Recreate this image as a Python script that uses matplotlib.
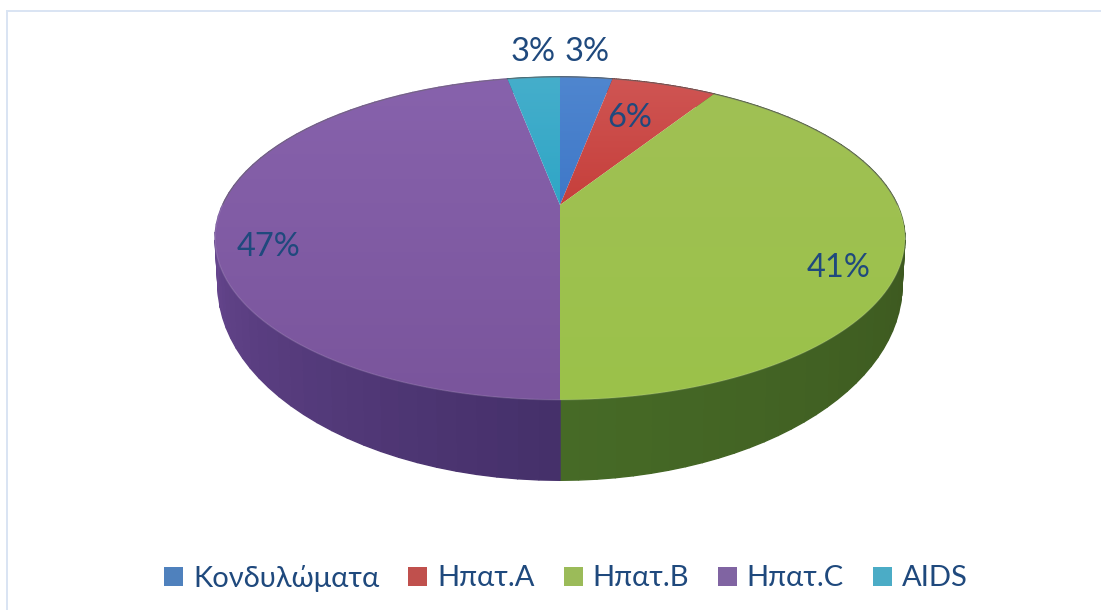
import numpy as np
import matplotlib
matplotlib.use("Agg")
from matplotlib import pyplot as plt
from matplotlib.patches import Polygon, Patch

labels = ["Κονδυλώματα", "Ηπατ.Α", "Ηπατ.Β", "Ηπατ.C", "AIDS"]
values = [3, 6, 41, 47, 3]

# face gradient, top colour and bottom colour
face_top = ["#4f86cf", "#cf5553", "#a0c054", "#8762ac", "#45aecb"]
face_bottom = ["#3f78c8", "#c63f3b", "#9bc24a", "#7a559c", "#2fa6c6"]
swatches = ["#4f81bd", "#c0504d", "#9bbb59", "#8064a2", "#4bacc6"]
# side wall colours, first and last of the slice
wall_start = ["#2a4a70", "#702a28", "#34481a", "#45306a", "#226070"]
wall_end = ["#2a4a70", "#702a28", "#466a26", "#8a5eb5", "#226070"]

text_color = "#1f497d"
font = ["Lato", "Open Sans", "DejaVu Sans"]
label_pos = [(587, 52), (630, 118), (839, 268), (269, 247), (533, 52)]


def project(theta, cx, cy, a, b, k):
    # theta clockwise from the far point of the disc
    x = np.sin(theta)
    y = np.cos(theta)
    d = 1 + k * y
    return cx + a * x / d, cy - b * y / d


top = (560, 205, 337.5, 154.5, 0.207)
bottom = (560, 245, 334.6, 186.6, 0.207)


def mix(c1, c2, t):
    c1 = np.array(matplotlib.colors.to_rgb(c1))
    c2 = np.array(matplotlib.colors.to_rgb(c2))
    return c1 + (c2 - c1) * t


fig = plt.figure(figsize=(11.01, 6.10), dpi=100)
ax = fig.add_axes([0, 0, 1, 1])
ax.axis("off")

# frame of the chart area
ax.plot([7, 1101], [11, 11], color="#d9e4f3", lw=1.4)
ax.plot([7, 7], [11, 610], color="#d9e4f3", lw=1.4)

edges = np.cumsum([0] + values) / sum(values) * 2 * np.pi

# side wall, thin strips along the rim
for i in range(len(values)):
    th = np.linspace(edges[i], edges[i + 1], 60)
    for j in range(len(th) - 1):
        x1, y1 = project(th[j:j + 2], *top)
        x2, y2 = project(th[j:j + 2], *bottom)
        col = mix(wall_start[i], wall_end[i], j / (len(th) - 2))
        ax.fill(np.r_[x1, x2[::-1]], np.r_[y1, y2[::-1]], color=col, lw=1.0, zorder=1)

# top face
for i in range(len(values)):
    th = np.linspace(edges[i], edges[i + 1], 120)
    x, y = project(th, *top)
    px = np.r_[top[0], x]
    py = np.r_[top[1], y]
    poly = Polygon(np.c_[px, py], closed=True, transform=ax.transData, fc="none", ec="none")
    ax.add_patch(poly)
    grad = np.linspace(0, 1, 64)[:, None, None] * (
        np.array(matplotlib.colors.to_rgb(face_bottom[i])) - np.array(matplotlib.colors.to_rgb(face_top[i]))
    ) + np.array(matplotlib.colors.to_rgb(face_top[i]))
    im = ax.imshow(grad, extent=(px.min(), px.max(), py.max(), py.min()), aspect="auto",
                   interpolation="bilinear", zorder=3)
    im.set_clip_path(poly)

# dark hairline on the far rim, light one on the near rim
th = np.linspace(-np.pi / 2, np.pi / 2, 200)
x, y = project(th, *top)
ax.plot(x, y, color="#6b6b6b", lw=0.8, alpha=0.6, zorder=4)
th = np.linspace(np.pi / 2, 1.5 * np.pi, 200)
x, y = project(th, *top)
ax.plot(x, y, color="#ffffff", lw=1.0, alpha=0.12, zorder=4)

ax.set_xlim(0, 1101)
ax.set_ylim(610, 0)

for v, (lx, ly) in zip(values, label_pos):
    ax.text(lx, ly, "%d%%" % v, color=text_color, fontsize=23.5, family=font, ha="center", va="center", zorder=5)

handles = [Patch(fc=c, ec="none") for c in swatches]
fig.legend(
    handles, labels, loc="center", bbox_to_anchor=(566 / 1101, 1 - 578 / 610), ncol=5, frameon=False,
    prop={"family": font, "size": 21}, labelcolor=text_color, handlelength=0.65, handleheight=0.65,
    handletextpad=0.33, columnspacing=1.0,
)

fig.savefig("out.png", dpi=100)
